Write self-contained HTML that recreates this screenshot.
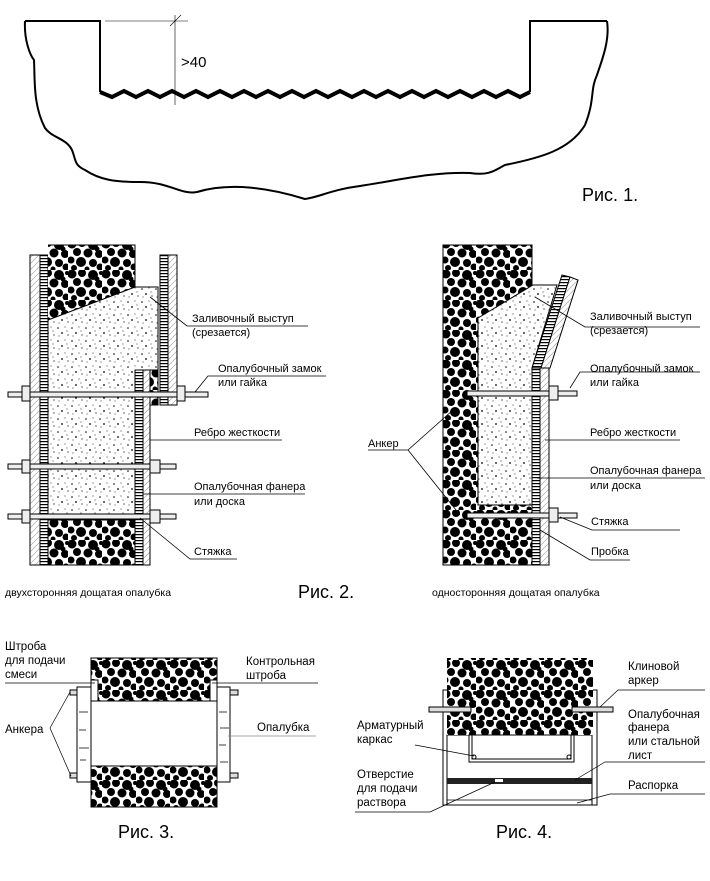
<!DOCTYPE html>
<html><head><meta charset="utf-8"><style>
html,body{margin:0;padding:0;background:#fff}
svg{display:block}
text{font-family:"Liberation Sans",sans-serif;fill:#000}
</style></head><body>
<svg width="710" height="881" viewBox="0 0 710 881" xmlns="http://www.w3.org/2000/svg">
<defs>
<pattern id="conc" width="34" height="30" patternUnits="userSpaceOnUse">
<rect width="34" height="30" fill="#fff"/>
<g fill="#000">
<circle cx="4" cy="4" r="4.5"/><circle cx="14" cy="3" r="4"/><circle cx="25" cy="5" r="5"/>
<circle cx="9" cy="12" r="4"/><circle cx="20" cy="13" r="4.5"/><circle cx="31" cy="14" r="4"/>
<circle cx="3" cy="20" r="3.5"/><circle cx="13" cy="22" r="5"/><circle cx="25" cy="23" r="4"/>
<circle cx="6" cy="28" r="3"/><circle cx="32" cy="27" r="3.5"/><circle cx="19" cy="29" r="2.5"/>
<circle cx="33" cy="3" r="2"/><circle cx="29" cy="9" r="2.5"/>
</g></pattern>
<pattern id="dots" width="14" height="13" patternUnits="userSpaceOnUse">
<rect width="14" height="13" fill="#fff"/>
<g fill="#000"><circle cx="2" cy="3" r="0.8"/><circle cx="9" cy="2" r="0.5"/><circle cx="6" cy="8" r="0.9"/><circle cx="12" cy="10" r="0.6"/><circle cx="3" cy="11" r="0.5"/><circle cx="11" cy="6" r="0.5"/></g></pattern>
<pattern id="ply" width="8" height="3" patternUnits="userSpaceOnUse">
<rect width="8" height="3" fill="#fff"/><rect y="0" width="8" height="1.2" fill="#000"/></pattern>
<pattern id="hat" width="6" height="6" patternUnits="userSpaceOnUse">
<rect width="6" height="6" fill="#fff"/><path d="M0 6L6 0" stroke="#999" stroke-width="0.6"/></pattern>
</defs>

<!-- Fig 1 -->
<path d="M25 21 L100 21 L100 92 M530 92 L530 21 L607 21" fill="none" stroke="#000" stroke-width="2"/>
<path d="M25 21 C24 40 30 55 34 60 C35 80 33 105 45 128 C52 138 66 138 72 150 C76 160 74 165 85 170 C100 180 115 182 140 182 C170 182 180 195 197 192 C230 182 270 188 305 199 C320 197 330 190 360 186 C400 180 430 172 470 173 C490 176 495 170 505 165 C540 158 570 150 585 125 C595 100 590 90 597 75 C602 60 610 40 607 21" fill="none" stroke="#000" stroke-width="2"/>
<path d="M100 92 L112 97 L124 91 L136 97 L148 91 L160 97 L172 91 L184 97 L196 91 L208 97 L220 91 L232 97 L244 91 L256 97 L268 91 L280 97 L292 91 L304 97 L316 91 L328 97 L340 91 L352 97 L364 91 L376 97 L388 91 L400 97 L412 91 L424 97 L436 91 L448 97 L460 91 L472 97 L484 91 L496 97 L508 91 L520 97 L530 92" fill="none" stroke="#000" stroke-width="4" stroke-linejoin="miter"/>
<path d="M175 15 V105 M105 21 H188 M170 26 L181 15" stroke="#000" stroke-width="0.6" fill="none"/>
<text x="181" y="67" font-size="15">&gt;40</text>
<text x="582" y="201" font-size="18">Рис. 1.</text>

<!-- Fig 2 left -->
<rect x="30" y="255" width="10" height="310" fill="url(#hat)" stroke="#000" stroke-width="1"/>
<rect x="40" y="255" width="8" height="310" fill="url(#ply)" stroke="#000" stroke-width="1"/>
<rect x="48" y="245" width="87" height="75" fill="url(#conc)"/>
<path d="M48 320 L135 287 L158 287 L158 370 L143 370 L143 520 L48 520 Z" fill="url(#dots)" stroke="#000" stroke-width="1"/>
<rect x="48" y="520" width="87" height="45" fill="url(#conc)" stroke="#000" stroke-width="1"/>
<path d="M48 245 H135 V287" fill="none" stroke="#000"/>
<rect x="160" y="255" width="8" height="150" fill="url(#ply)" stroke="#000"/>
<rect x="168" y="255" width="9" height="150" fill="url(#hat)" stroke="#000"/>
<rect x="150" y="370" width="8" height="35" fill="url(#conc)" stroke="#000"/>
<rect x="135" y="370" width="8" height="195" fill="url(#ply)" stroke="#000"/>
<rect x="143" y="370" width="7" height="195" fill="url(#hat)" stroke="#000"/>
<g fill="#eee" stroke="#000" stroke-width="1">
<rect x="8" y="392" width="200" height="5"/>
<rect x="8" y="464" width="168" height="5"/>
<rect x="8" y="514" width="168" height="5"/>
<rect x="22" y="386" width="8" height="15"/><rect x="177" y="386" width="8" height="15"/>
<rect x="22" y="460" width="8" height="13"/><rect x="150" y="460" width="10" height="13"/>
<rect x="22" y="510" width="8" height="13"/><rect x="150" y="510" width="10" height="13"/>
</g>
<g stroke="#000" stroke-width="0.8" fill="none">
<path d="M150 297 L187 326 H308"/>
<path d="M195 392 L208 376 H326"/>
<path d="M150 440 H282"/>
<path d="M143 494 H305"/>
<path d="M140 518 L190 559 H237"/>
</g>
<g font-size="11">
<text x="192" y="322">Заливочный выступ</text>
<text x="192" y="336">(срезается)</text>
<text x="218" y="372">Опалубочный замок</text>
<text x="218" y="386">или гайка</text>
<text x="194" y="436">Ребро жесткости</text>
<text x="194" y="490">Опалубочная фанера</text>
<text x="194" y="505">или доска</text>
<text x="194" y="555">Стяжка</text>
</g>
<text x="5" y="596" font-size="10.5">двухсторонняя дощатая опалубка</text>
<text x="298" y="598" font-size="18">Рис. 2.</text>

<!-- Fig 2 right -->
<rect x="443" y="245" width="89" height="320" fill="url(#conc)" stroke="#000"/>
<path d="M533 285 L557 285 L532 368 L532 505 L478 505 L478 318 Z" fill="url(#dots)" stroke="#000"/>
<path d="M562 275 L570 277 L541 368 L532 368 Z" fill="url(#ply)" stroke="#000"/>
<path d="M570 277 L578 280 L550 368 L541 368 Z" fill="url(#hat)" stroke="#000"/>
<rect x="532" y="368" width="8" height="197" fill="url(#ply)" stroke="#000"/>
<rect x="540" y="368" width="9" height="197" fill="url(#hat)" stroke="#000"/>
<g fill="#eee" stroke="#000">
<rect x="467" y="391" width="110" height="5"/>
<rect x="467" y="513" width="110" height="5"/>
<rect x="549" y="386" width="9" height="14"/>
<rect x="549" y="508" width="9" height="14"/>
</g>
<g stroke="#000" stroke-width="0.8" fill="none">
<path d="M535 297 L585 327 H700"/>
<path d="M570 388 L580 372 H700"/>
<path d="M545 440 H680"/>
<path d="M537 478 H705"/>
<path d="M560 517 L592 530 H680"/>
<path d="M540 530 L590 560 H630"/>
<path d="M368 450 H408 L453 410 M408 450 L460 515"/>
</g>
<g font-size="11">
<text x="590" y="320">Заливочный выступ</text>
<text x="590" y="334">(срезается)</text>
<text x="590" y="372">Опалубочный замок</text>
<text x="590" y="386">или гайка</text>
<text x="590" y="436">Ребро жесткости</text>
<text x="590" y="474">Опалубочная фанера</text>
<text x="590" y="489">или доска</text>
<text x="591" y="525">Стяжка</text>
<text x="591" y="555">Пробка</text>
<text x="368" y="447">Анкер</text>
</g>
<text x="432" y="596" font-size="10.5">односторонняя дощатая опалубка</text>

<!-- Fig 3 -->
<rect x="91" y="658" width="126" height="43" fill="url(#conc)" stroke="#000"/>
<rect x="91" y="766" width="126" height="41" fill="url(#conc)" stroke="#000"/>
<rect x="91" y="701" width="126" height="65" fill="#fff" stroke="#000"/>
<rect x="77" y="687" width="14" height="95" fill="#fff" stroke="#000"/>
<rect x="217" y="687" width="13" height="95" fill="#fff" stroke="#000"/>
<rect x="91" y="680" width="7" height="21" fill="#fff" stroke="#000"/>
<rect x="210" y="680" width="7" height="21" fill="#fff" stroke="#000"/>
<g stroke="#000" stroke-width="0.7"><path d="M79 712h9M79 730h7M79 748h10M80 760h6M219 712h8M220 728h9M219 745h7M220 762h8"/></g>
<g fill="#ddd" stroke="#000"><rect x="70" y="690" width="7" height="5"/><rect x="70" y="773" width="7" height="5"/><rect x="230" y="690" width="8" height="5"/><rect x="230" y="773" width="8" height="5"/></g>
<g stroke="#000" stroke-width="0.7" fill="none">
<path d="M5 683 H95"/><path d="M212 683 H318"/>
<path d="M50 728 L70 692 M50 728 L71 776"/>
<path d="M228 736 H316" stroke="#888"/>
</g>
<g font-size="11.5">
<text x="5" y="650">Штроба</text>
<text x="5" y="664">для подачи</text>
<text x="5" y="678">смеси</text>
<text x="246" y="665">Контрольная</text>
<text x="246" y="679">штроба</text>
<text x="5" y="733">Анкера</text>
<text x="257" y="731">Опалубка</text>
</g>
<text x="118" y="838" font-size="18">Рис. 3.</text>

<!-- Fig 4 -->
<rect x="443" y="690" width="154" height="115" fill="#fff" stroke="#000"/>
<rect x="447" y="735" width="145" height="70" fill="#fff" stroke="#000"/>
<rect x="447" y="658" width="146" height="77" fill="url(#conc)"/>
<rect x="469" y="735" width="105" height="27" fill="none" stroke="#000"/>
<rect x="472" y="735" width="99" height="24" fill="none" stroke="#000"/>
<circle cx="474" cy="757" r="2" fill="none" stroke="#000"/><circle cx="569" cy="757" r="2" fill="none" stroke="#000"/>
<rect x="447" y="778" width="145" height="6" fill="#222"/>
<rect x="495" y="779" width="8" height="3" fill="#fff"/>
<path d="M447 800 H592" stroke="#000" stroke-width="0.8"/>
<rect x="429" y="707" width="42" height="5" fill="#ddd" stroke="#000"/>
<rect x="572" y="707" width="41" height="5" fill="#ddd" stroke="#000"/>
<g stroke="#000" stroke-width="0.7" fill="none">
<path d="M600 707 L618 690 H705"/>
<path d="M575 780 L605 762 H705"/>
<path d="M577 803 L610 794 H705"/>
<path d="M415 745 L474 756"/>
<path d="M355 812 H430 L495 782"/>
</g>
<g font-size="11.5">
<text x="628" y="670">Клиновой</text>
<text x="628" y="684">аркер</text>
<text x="628" y="718">Опалубочная</text>
<text x="628" y="731">фанера</text>
<text x="628" y="745">или стальной</text>
<text x="628" y="759">лист</text>
<text x="628" y="789">Распорка</text>
<text x="357" y="729">Арматурный</text>
<text x="357" y="743">каркас</text>
<text x="357" y="778">Отверстие</text>
<text x="357" y="792">для подачи</text>
<text x="357" y="806">раствора</text>
</g>
<text x="496" y="838" font-size="18">Рис. 4.</text>
</svg>
</body></html>
